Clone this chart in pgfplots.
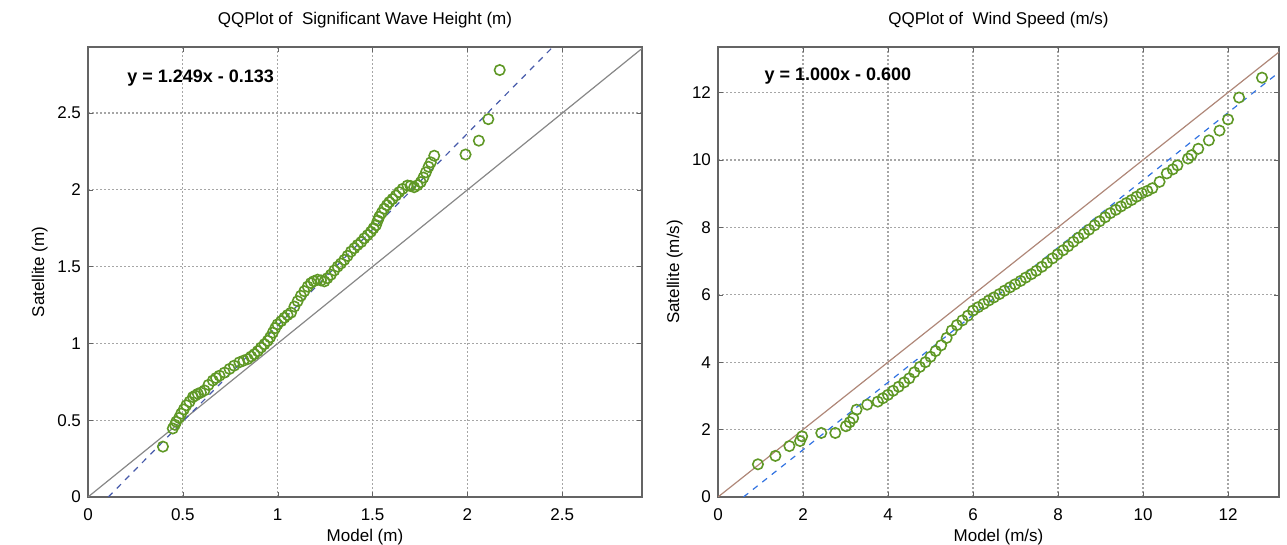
\documentclass[border=0pt]{standalone}
\usepackage{fontspec}
\setmainfont{Liberation Sans}
\usepackage{pgfplots}
\pgfplotsset{compat=1.18}

\definecolor{qqgreen}{RGB}{95,152,38}
\definecolor{refgray}{RGB}{135,135,135}
\definecolor{reftan}{RGB}{175,135,120}
\definecolor{fitnavy}{RGB}{70,90,170}
\definecolor{fitblue}{RGB}{50,115,225}
\definecolor{boxgray}{RGB}{100,100,100}

\pgfplotsset{
  qq/.style={
    scale only axis, anchor=south west,
    xmin=0, ymin=0,
    grid=major, grid style={dash pattern=on 1pt off 1pt, gray!70, line width=0.6pt},
    tick align=inside, major tick length=2.5pt,
    axis line style={boxgray, line width=0.8pt},
    tick style={boxgray},
    ticklabel style={font=\fontsize{8.5}{10}\selectfont},
    /pgf/number format/assume math mode=true,
    every axis title shift=0pt,
    title style={font=\fontsize{8.5}{10}\selectfont, at={(axis description cs:0.5,1.06)}, anchor=center},
    every axis x label/.style={font=\fontsize{8.5}{10}\selectfont, at={(axis description cs:0.5,-0.089)}, anchor=center},
    xticklabel style={yshift=-2.5pt},
  },
  pts/.style={only marks, mark=o, mark size=2.6pt, draw=qqgreen, mark options={line width=0.8pt, qqgreen}},
}

\begin{document}
\begin{tikzpicture}
\useasboundingbox (0,0) rectangle (643.5pt,272.5pt);

% left: significant wave height
\begin{axis}[qq, at={(44pt,24pt)}, width=277pt, height=225pt,
  xmax=2.92, ymax=2.93,
  xtick={0,0.5,1,1.5,2,2.5}, ytick={0,0.5,1,1.5,2,2.5},
  title={QQPlot of\ \ Significant Wave Height (m)},
  xlabel={Model (m)}, ylabel={Satellite (m)},
  every axis y label/.style={font=\fontsize{8.5}{10}\selectfont, at={(axis description cs:-0.087,0.5)}, rotate=90, anchor=center},
]
\addplot[refgray, line width=0.6pt] coordinates {(0,0) (2.92,2.92)};
\addplot[fitnavy, dashed, line width=0.6pt] coordinates {(0.107,0) (2.45,2.93)};
\addplot[pts] coordinates {
(0.395,0.328) (0.447,0.446) (0.458,0.47) (0.465,0.49) (0.48,0.515) (0.491,0.543)
(0.505,0.57) (0.518,0.597) (0.535,0.62) (0.553,0.651) (0.565,0.66) (0.579,0.672)
(0.595,0.68) (0.614,0.694) (0.635,0.73) (0.658,0.758) (0.675,0.775) (0.693,0.79)
(0.72,0.81) (0.746,0.834) (0.77,0.855) (0.798,0.877) (0.82,0.888) (0.842,0.898)
(0.86,0.915) (0.877,0.93) (0.895,0.95) (0.912,0.973) (0.93,0.995) (0.947,1.017)
(0.96,1.04) (0.974,1.07) (0.987,1.1) (0.999,1.124) (1.018,1.145) (1.035,1.167)
(1.052,1.185) (1.07,1.2) (1.088,1.24) (1.105,1.275) (1.122,1.31) (1.14,1.34)
(1.158,1.37) (1.175,1.393) (1.19,1.405) (1.21,1.415) (1.228,1.41) (1.246,1.404)
(1.262,1.425) (1.28,1.447) (1.298,1.475) (1.316,1.5) (1.333,1.52) (1.351,1.544)
(1.368,1.57) (1.386,1.598) (1.404,1.62) (1.421,1.641) (1.44,1.66) (1.456,1.684)
(1.474,1.705) (1.491,1.727) (1.505,1.75) (1.518,1.77) (1.527,1.8) (1.535,1.824)
(1.548,1.85) (1.561,1.877) (1.575,1.9) (1.588,1.92) (1.605,1.94) (1.623,1.963)
(1.64,1.985) (1.658,2.006) (1.684,2.028) (1.70,2.025) (1.719,2.017) (1.737,2.03)
(1.754,2.05) (1.768,2.08) (1.781,2.114) (1.795,2.15) (1.807,2.179) (1.825,2.222)
(1.99,2.23) (2.06,2.32) (2.11,2.46) (2.17,2.78)
};
\node[anchor=west, font=\bfseries\fontsize{9}{11}\selectfont] at (axis cs:0.17,2.73) {y = 1.249x - 0.133};
\end{axis}

% right: wind speed
\begin{axis}[qq, at={(359pt,24pt)}, width=280.5pt, height=225pt,
  xmax=13.2, ymax=13.35,
  xtick={0,2,4,6,8,10,12}, ytick={0,2,4,6,8,10,12},
  title={QQPlot of\ \ Wind Speed (m/s)},
  xlabel={Model (m/s)}, ylabel={Satellite (m/s)},
  every axis y label/.style={font=\fontsize{8.5}{10}\selectfont, at={(axis description cs:-0.077,0.5)}, rotate=90, anchor=center},
]
\addplot[reftan, line width=0.6pt] coordinates {(0,0) (13.2,13.2)};
\addplot[fitblue, dashed, line width=0.6pt] coordinates {(0.6,0) (13.2,12.6)};
\addplot[pts] coordinates {
(0.94,0.97) (1.35,1.22) (1.68,1.51) (1.93,1.66) (1.98,1.80) (2.43,1.90) (2.76,1.90)
(3.01,2.10) (3.10,2.22) (3.18,2.34) (3.26,2.59) (3.51,2.74) (3.76,2.83) (3.88,2.93)
(4.00,3.03) (4.12,3.15) (4.25,3.27) (4.38,3.40) (4.50,3.52) (4.62,3.70) (4.75,3.86)
(4.88,4.00) (5.00,4.16) (5.12,4.33) (5.25,4.50) (5.38,4.72) (5.50,4.94) (5.62,5.10)
(5.75,5.24) (5.88,5.38) (6.00,5.53) (6.12,5.63) (6.25,5.73) (6.37,5.83) (6.49,5.92)
(6.62,6.02) (6.74,6.12) (6.87,6.22) (6.99,6.31) (7.12,6.41) (7.24,6.51) (7.37,6.61)
(7.49,6.71) (7.62,6.83) (7.74,6.95) (7.87,7.08) (7.99,7.20) (8.12,7.32) (8.24,7.44)
(8.36,7.57) (8.48,7.69) (8.61,7.81) (8.73,7.93) (8.86,8.06) (8.98,8.18) (9.11,8.30)
(9.23,8.42) (9.36,8.52) (9.48,8.62) (9.61,8.72) (9.73,8.81) (9.85,8.91) (9.97,9.01)
(10.10,9.08) (10.22,9.16) (10.39,9.35) (10.56,9.60) (10.70,9.72) (10.81,9.84)
(11.06,10.04) (11.14,10.14) (11.30,10.33) (11.55,10.58) (11.80,10.87) (12.00,11.2)
(12.26,11.85) (12.80,12.44)
};
\node[anchor=west, font=\bfseries\fontsize{9}{11}\selectfont] at (axis cs:0.93,12.49) {y = 1.000x - 0.600};
\end{axis}
\end{tikzpicture}
\end{document}
